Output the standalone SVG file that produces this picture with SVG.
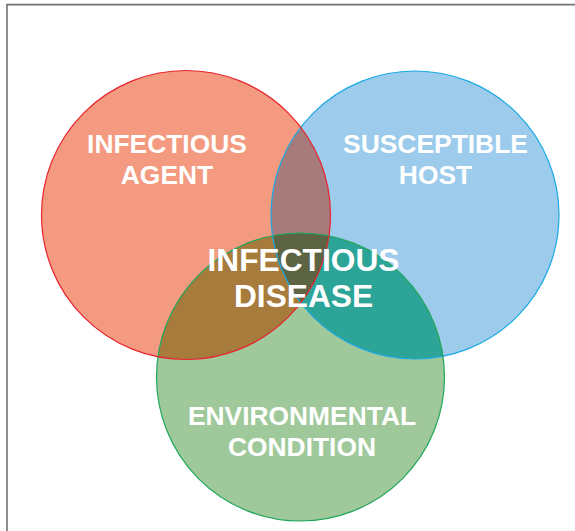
<svg xmlns="http://www.w3.org/2000/svg" width="575" height="531" viewBox="0 0 575 531">
<style>
.lbl{font-family:"Liberation Sans",Arial,sans-serif;font-weight:bold;fill:#ffffff;text-anchor:middle;font-size:26.4px}
.big{font-size:31.7px}
.edge{fill:none;stroke-width:1.2}
</style>
<defs>
<clipPath id="clipR"><circle cx="186" cy="215" r="144.5"/></clipPath>
<clipPath id="clipB"><circle cx="415" cy="215" r="144"/></clipPath>
</defs>
<rect width="575" height="531" fill="#ffffff"/>
<path d="M7,531 V4.6 H575" fill="none" stroke="#737373" stroke-width="1.6"/>
<g id="node-agent"><circle cx="186" cy="215" r="144.5" fill="#f39a80"/></g>
<g id="node-host"><circle cx="415" cy="215" r="144" fill="#9ccbec"/></g>
<g id="node-environment"><circle cx="300.5" cy="377" r="144" fill="#9fc99b"/></g>
<g id="overlaps">
<circle cx="415" cy="215" r="144" fill="#a77a7c" clip-path="url(#clipR)"/>
<circle cx="300.5" cy="377" r="144" fill="#a67b3c" clip-path="url(#clipR)"/>
<circle cx="300.5" cy="377" r="144" fill="#2ca598" clip-path="url(#clipB)"/>
<g clip-path="url(#clipR)"><circle cx="300.5" cy="377" r="144" fill="#5c6444" clip-path="url(#clipB)"/></g>
</g>
<g id="outlines">
<circle class="edge" cx="415" cy="215" r="144" stroke="#1aa9e3"/>
<circle class="edge" cx="300.5" cy="377" r="144" stroke="#1fa65a"/>
<circle class="edge" cx="186" cy="215" r="144.5" stroke="#e8232d"/>
</g>
<g id="label-agent"><text class="lbl" x="167" y="153">INFECTIOUS</text><text class="lbl" x="167" y="184">AGENT</text></g>
<g id="label-host"><text class="lbl" x="435.5" y="153">SUSCEPTIBLE</text><text class="lbl" x="435.5" y="184">HOST</text></g>
<g id="label-environment"><text class="lbl" x="302" y="425">ENVIRONMENTAL</text><text class="lbl" x="302" y="456">CONDITION</text></g>
<g id="node-disease"><text class="lbl big" x="303.5" y="271">INFECTIOUS</text><text class="lbl big" x="303.5" y="307">DISEASE</text></g>
</svg>
